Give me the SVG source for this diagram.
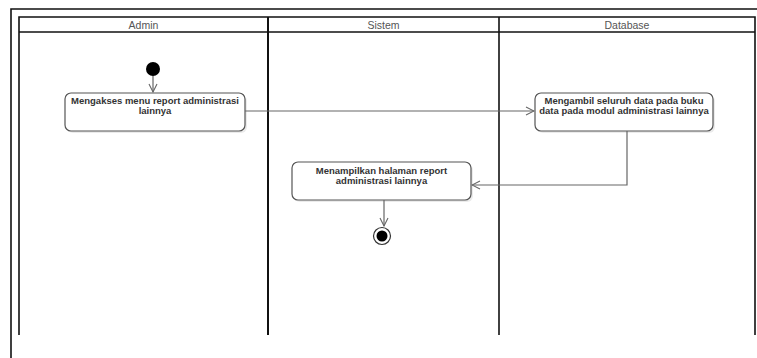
<svg xmlns="http://www.w3.org/2000/svg" width="757" height="358" viewBox="0 0 757 358">
<style>
.frame{fill:none;stroke:#111;stroke-width:1.6}
.lane{stroke:#111;stroke-width:2}
.hdr{font-family:"Liberation Sans",Arial,sans-serif;font-size:10.5px;fill:#555;text-anchor:middle}
.node{fill:#fff;stroke:#555;stroke-width:1.2}
.shadow{fill:#ddd;opacity:0.6}
.lbl{font-family:"Liberation Sans",Arial,sans-serif;font-size:9.5px;font-weight:bold;fill:#333;text-anchor:middle}
.conn{fill:none;stroke:#666;stroke-width:1.2}
</style>
<defs>
<marker id="arr" markerWidth="10" markerHeight="10" refX="9" refY="5" orient="auto" markerUnits="userSpaceOnUse">
<path d="M1,1 L9,5 L1,9" fill="none" stroke="#666" stroke-width="1.1"/>
</marker>
</defs>
<rect width="757" height="358" fill="#fff"/>
<g id="frame">
<path class="frame" d="M11,358 L11,9 L757,9"/>
<path class="frame" d="M19,335 L19,17 L755,17 L755,335"/>
<line class="frame" x1="19" y1="32" x2="755" y2="32"/>
<line class="lane" x1="268" y1="17" x2="268" y2="335"/>
<line class="lane" x1="499" y1="17" x2="499" y2="335" style="stroke-width:1.6"/>
<text class="hdr" x="143.5" y="28.5">Admin</text>
<text class="hdr" x="383.5" y="28.5">Sistem</text>
<text class="hdr" x="627" y="28.5">Database</text>
</g>
<g id="start">
<circle cx="153" cy="69" r="7" fill="#000"/>
</g>
<g id="node1">
<rect class="shadow" x="67" y="95" width="180" height="38" rx="6"/>
<rect class="node" x="65" y="93" width="180" height="38" rx="6"/>
<text class="lbl" x="155" y="103.5">Mengakses menu report administrasi</text>
<text class="lbl" x="155" y="113.5">lainnya</text>
</g>
<g id="node2">
<rect class="shadow" x="537" y="95" width="178" height="38" rx="6"/>
<rect class="node" x="535" y="93" width="178" height="38" rx="6"/>
<text class="lbl" x="624" y="104">Mengambil seluruh data pada buku</text>
<text class="lbl" x="624" y="114">data pada modul administrasi lainnya</text>
</g>
<g id="node3">
<rect class="shadow" x="294" y="164" width="179" height="38" rx="6"/>
<rect class="node" x="292" y="162" width="179" height="38" rx="6"/>
<text class="lbl" x="381.5" y="173.5">Menampilkan halaman report</text>
<text class="lbl" x="381.5" y="183.5">administrasi lainnya</text>
</g>
<g id="end">
<circle cx="382" cy="236" r="8.5" fill="#fff" stroke="#333" stroke-width="1.2"/>
<circle cx="382" cy="236" r="5.5" fill="#000"/>
</g>
<g id="connectors">
<path class="conn" d="M153,76 L153,92" marker-end="url(#arr)"/>
<path class="conn" d="M245,111 L534,111" marker-end="url(#arr)"/>
<path class="conn" d="M627,131 L627,185 L472,185" marker-end="url(#arr)"/>
<path class="conn" d="M384,200 L384,226" marker-end="url(#arr)"/>
</g>
</svg>
